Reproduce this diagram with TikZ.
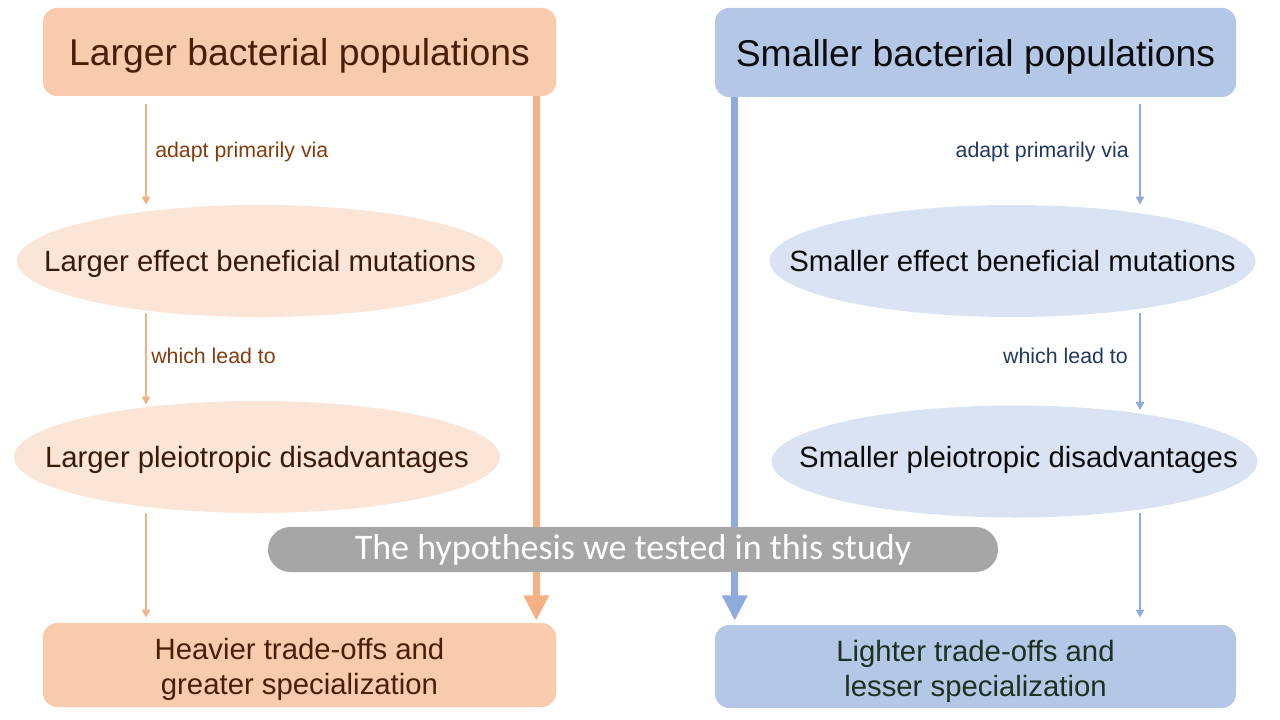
\documentclass[tikz,border=0pt]{standalone}
\usepackage{fontspec}
\setmainfont{Liberation Sans}
\newfontfamily\carlito{Carlito}
\usetikzlibrary{arrows.meta,shapes.geometric}
\definecolor{orBox}{HTML}{F8CBAD}
\definecolor{orEll}{HTML}{FBE5D6}
\definecolor{orArr}{HTML}{F4B183}
\definecolor{orTxt}{HTML}{843C0C}
\definecolor{orDark}{HTML}{4A1F08}
\definecolor{orEllTxt}{HTML}{3B1A08}
\definecolor{blBox}{HTML}{B4C7E7}
\definecolor{blEll}{HTML}{DAE3F3}
\definecolor{blArr}{HTML}{8FAADC}
\definecolor{blTxt}{HTML}{203864}
\definecolor{blDark}{HTML}{0D0D0D}
\definecolor{grTxt}{HTML}{1E301E}
\definecolor{bannerGray}{HTML}{A6A6A6}
\begin{document}
\begin{tikzpicture}[x=0.75pt,y=-0.75pt,
  box/.style={rounded corners=10.5pt, inner sep=0pt, align=center},
  titlefont/.style={font=\fontsize{28}{33}\selectfont},
  bodyfont/.style={font=\fontsize{22}{26.25}\selectfont},
  lab/.style={inner sep=0pt, font=\fontsize{16}{19}\selectfont},
  ell/.style={ellipse, inner sep=0pt, minimum width=364.5pt, minimum height=84pt},
  thinL/.style={draw=orArr, line width=1.5pt, -{Triangle[width=6pt,length=6pt]}},
  thinR/.style={draw=blArr, line width=1.5pt, -{Triangle[width=6pt,length=6pt]}},
  thickL/.style={draw=orArr, line width=5.25pt, -{Triangle[width=18pt,length=19pt]}},
  thickR/.style={draw=blArr, line width=5.25pt, -{Triangle[width=18pt,length=19pt]}}
]
\useasboundingbox (0,0) rectangle (1280,720);

% ellipses
\node[ell, fill=orEll] (le1) at (260,261) {};
\node[ell, fill=orEll] (le2) at (257,457) {};
\node[ell, fill=blEll] (re1) at (1012.5,261) {};
\node[ell, fill=blEll] (re2) at (1014.5,461.5) {};
\node[bodyfont, text=orEllTxt, yshift=-2.25pt] (le1t) at (le1) {Larger effect beneficial mutations};
\node[bodyfont, text=orEllTxt, yshift=-2.25pt] (le2t) at (le2) {Larger pleiotropic disadvantages};
\node[bodyfont, text=blDark] (re1t) at (re1) {Smaller effect beneficial mutations};
\node[bodyfont, text=blDark, xshift=3pt, yshift=1pt] (re2t) at (re2) {Smaller pleiotropic disadvantages};

% boxes
\node[box, fill=orBox, minimum width=384.75pt, minimum height=66pt] (tl) at (299.5,52) {};
\node[box, fill=blBox, minimum width=390.75pt, minimum height=66.75pt] (tr) at (975.5,52.5) {};
\node[box, fill=orBox, minimum width=384.75pt, minimum height=63pt] (bl) at (299.5,665) {};
\node[box, fill=blBox, minimum width=390.75pt, minimum height=62.25pt] (br) at (975.5,666.5) {};
\node[titlefont, text=orDark, yshift=-3pt] (tlt) at (tl) {Larger bacterial populations};
\node[titlefont, text=blDark, yshift=-3pt] (trt) at (tr) {Smaller bacterial populations};
\node[bodyfont, align=center, text=orDark, yshift=-3.5pt] (blt) at (bl) {Heavier trade-offs and\\greater specialization};
\node[bodyfont, align=center, text=grTxt, yshift=-3.5pt] (brt) at (br) {Lighter trade-offs and\\lesser specialization};

% thin arrows
\coordinate (xl) at (146,0);
\coordinate (xr) at (1140,0);
\draw[thinL, shorten <=6pt] (tl.south -| xl) -- (le1.north -| xl);
\draw[thinL, shorten <=-3pt, shorten >=-3pt] (le1.south -| xl) -- (le2.north -| xl);
\draw[thinL, shorten >=3.75pt] (le2.south -| xl) -- (bl.north -| xl);
\draw[thinR, shorten <=5pt] (tr.south -| xr) -- (re1.north -| xr);
\draw[thinR, shorten <=-3pt, shorten >=-3.75pt] (re1.south -| xr) -- (re2.north -| xr);
\draw[thinR, shorten <=-3.75pt, shorten >=5.25pt] (re2.south -| xr) -- (br.north -| xr);

% labels
\node[lab, text=orTxt, anchor=west] (la1) at (155,152) {adapt primarily via};
\node[lab, text=orTxt, anchor=west] (la2) at (151,356) {which lead to};
\node[lab, text=blTxt, anchor=east] (ra1) at (1129,152) {adapt primarily via};
\node[lab, text=blTxt, anchor=east] (ra2) at (1128,356) {which lead to};

% thick arrows
\draw[thickL, shorten >=1.5pt] ([xshift=-15pt]tl.south east) -- ([xshift=-15pt]bl.north east);
\draw[thickR, shorten >=3pt] ([xshift=15pt]tr.south west) -- ([xshift=15pt]br.north west);

% banner
\node[fill=bannerGray, rounded corners=16.8pt, inner sep=0pt, minimum width=547.5pt, minimum height=33.75pt, text=white, font=\carlito\fontsize{27}{32}\selectfont] (hyp) at (633,549.5) {The hypothesis we tested in this study};
\end{tikzpicture}
\end{document}
